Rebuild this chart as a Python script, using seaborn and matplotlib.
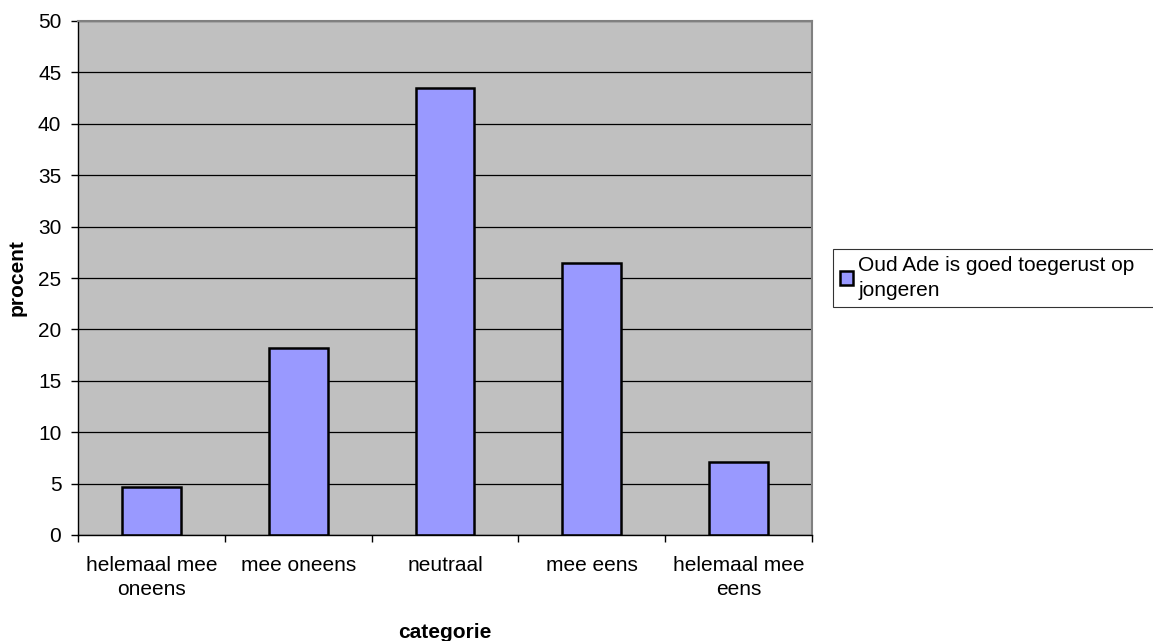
import matplotlib
matplotlib.use("Agg")
import matplotlib.pyplot as plt
import seaborn as sns
import pandas as pd
import numpy as np
from matplotlib.patches import Patch

categories = ["helemaal mee\noneens", "mee oneens", "neutraal", "mee eens", "helemaal mee\neens"]
values = [4.7, 18.2, 43.5, 26.5, 7.1]
series_name = "Oud Ade is goed toegerust op\njongeren"
yticks = list(range(0, 55, 5))

sns.set_theme(style="white")
plt.rcParams['font.family'] = ['Liberation Sans', 'DejaVu Sans']
plt.rcParams['text.color'] = 'black'
plt.rcParams['xtick.color'] = 'black'
plt.rcParams['ytick.color'] = 'black'
plt.rcParams['axes.labelcolor'] = 'black'

FS = 15

df = pd.DataFrame({"categorie": categories, "procent": values})

fig = plt.figure(figsize=(11.53, 6.41), dpi=100)
ax = fig.add_axes([78/1153, 1-535/641, (812-78)/1153, (535-21)/641])
ax.set_facecolor("#C0C0C0")
ax.set_axisbelow(True)

sns.barplot(data=df, x="categorie", y="procent", color="#9999FF", width=0.4,
            edgecolor="black", linewidth=1.8, saturation=1, ax=ax)

ax.set_ylim(0, 50)
ax.set_xlim(-0.5, len(categories) - 0.5)
ax.set_yticks(yticks)
ax.set_yticklabels([str(t) for t in yticks], fontsize=FS)
ax.yaxis.grid(True, color="black", linewidth=0.9)
ax.tick_params(axis="y", length=5, width=1, color="black", left=True, pad=7)
ax.set_xticks(range(len(categories)))
ax.set_xticklabels(categories, fontsize=FS, linespacing=1.35)
ax.tick_params(axis="x", which="major", length=0, pad=15)
ax.set_xticks(np.arange(-0.5, len(categories), 1.0), minor=True)
ax.tick_params(axis="x", which="minor", length=5, width=1, color="black", bottom=True)

for s in ["top", "right"]:
    ax.spines[s].set_color("#808080")
    ax.spines[s].set_linewidth(1.5)
for s in ["left", "bottom"]:
    ax.spines[s].set_color("black")
    ax.spines[s].set_linewidth(1)

ax.set_xlabel("categorie", fontsize=FS, fontweight="bold", labelpad=17)
ax.set_ylabel("procent", fontsize=FS, fontweight="bold", labelpad=8)

handle = Patch(facecolor="#9999FF", edgecolor="black", linewidth=1.8)
leg = fig.legend([handle], [series_name], loc="upper left",
                 bbox_to_anchor=(833/1153, 1-249/641, (1170-833)/1153, 0.0),
                 mode="expand", fontsize=FS,
                 frameon=True, fancybox=False, edgecolor="black",
                 handlelength=0.62, handleheight=0.62, handletextpad=0.25,
                 borderpad=0.35, borderaxespad=0)
leg.get_frame().set_linewidth(0.8)
for t in leg.get_texts():
    t.set_linespacing(1.35)

fig.savefig("out.png", dpi=100, facecolor="white")
